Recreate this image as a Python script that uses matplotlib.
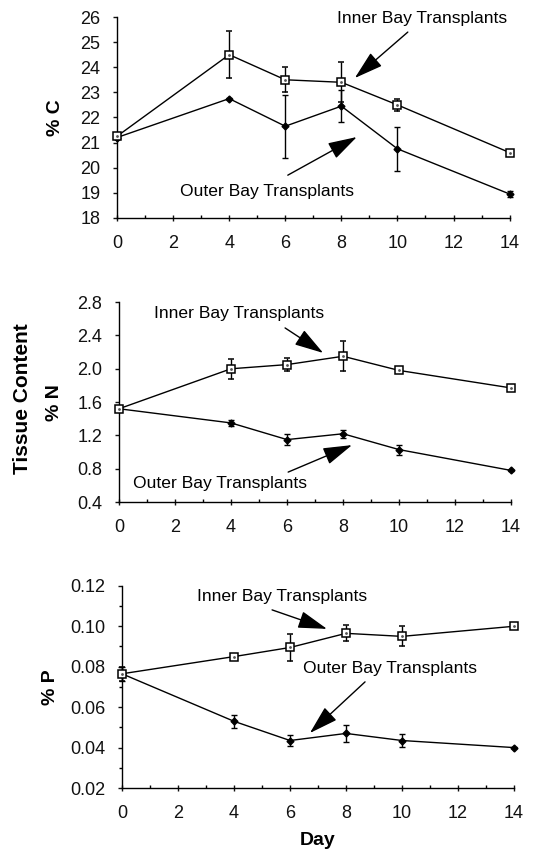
import matplotlib
matplotlib.use("Agg")
import matplotlib.pyplot as plt
from matplotlib.ticker import MultipleLocator

plt.rcParams['font.family'] = ['Liberation Sans', 'DejaVu Sans']

days = [0, 4, 6, 8, 10, 14]

c_inner = [21.25, 24.5, 23.5, 23.4, 22.5, 20.6]
c_inner_err = [0.05, 0.93, 0.5, 0.8, 0.25, 0.12]
c_outer = [21.2, 22.75, 21.65, 22.45, 20.75, 18.95]
c_outer_err = [0.05, 0.03, 1.25, 0.65, 0.88, 0.1]

n_inner = [1.52, 2.0, 2.05, 2.15, 1.98, 1.77]
n_inner_err = [0.03, 0.12, 0.08, 0.18, 0.03, 0.02]
n_outer = [1.52, 1.35, 1.15, 1.22, 1.03, 0.78]
n_outer_err = [0.03, 0.04, 0.07, 0.05, 0.06, 0.01]

p_inner = [0.0765, 0.085, 0.0895, 0.0965, 0.095, 0.100]
p_inner_err = [0.0035, 0.0015, 0.0065, 0.004, 0.005, 0.0008]
p_outer = [0.0765, 0.053, 0.0435, 0.047, 0.0435, 0.040]
p_outer_err = [0.0035, 0.0033, 0.0027, 0.004, 0.003, 0.0003]

c_ticks = [18, 19, 20, 21, 22, 23, 24, 25, 26]
n_ticks = [0.4, 0.8, 1.2, 1.6, 2.0, 2.4, 2.8]
p_ticks = [0.02, 0.04, 0.06, 0.08, 0.10, 0.12]
x_ticks = [0, 2, 4, 6, 8, 10, 12, 14]

fig = plt.figure(figsize=(5.4, 8.51), dpi=100)
ax1 = fig.add_axes([0.2167, 0.744, 0.727, 0.236])
ax2 = fig.add_axes([0.2204, 0.410, 0.726, 0.235])
ax3 = fig.add_axes([0.2259, 0.074, 0.726, 0.2376])

def style(ax, yticks, fmt, yminor=None):
    for s in ['top', 'right']:
        ax.spines[s].set_visible(False)
    for s in ['left', 'bottom']:
        ax.spines[s].set_linewidth(1.0)
    ax.set_xlim(0, 14)
    ax.set_ylim(yticks[0], yticks[-1])
    ax.set_xticks(x_ticks)
    ax.set_xticklabels([str(t) for t in x_ticks])
    ax.set_yticks(yticks)
    ax.set_yticklabels([fmt.format(t) for t in yticks])
    ax.xaxis.set_minor_locator(MultipleLocator(1))
    if yminor:
        ax.yaxis.set_minor_locator(MultipleLocator(yminor))
    ax.tick_params(axis='x', which='major', direction='inout', length=5, width=1,
                   labelsize=13, pad=10, colors='#111111')
    ax.tick_params(axis='x', which='minor', direction='in', length=2.5, width=1)
    ax.tick_params(axis='y', which='major', direction='out', length=3, width=1,
                   labelsize=13, pad=9, colors='#111111')
    ax.tick_params(axis='y', which='minor', direction='out', length=2, width=1)

def draw(ax, yi, ei, yo, eo):
    ax.errorbar(days, yi, yerr=ei, color='k', lw=1.0, elinewidth=1.0, capsize=2.5,
                marker='s', markersize=6, markerfacecolor='white',
                markeredgecolor='k', markeredgewidth=1.1, zorder=3, clip_on=False)
    ax.plot(days, yi, linestyle='none', marker='.', markersize=2, color='#555555',
            zorder=4, clip_on=False)
    ax.errorbar(days, yo, yerr=eo, color='k', lw=1.0, elinewidth=1.0, capsize=2.5,
                marker='D', markersize=3.5, markerfacecolor='k',
                markeredgecolor='k', zorder=2, clip_on=False)

arrow = dict(arrowstyle='-|>,head_length=1.0,head_width=0.3', color='k', lw=1.0,
             mutation_scale=18, shrinkA=0, shrinkB=0)

TS = 12.6

# Panel C
style(ax1, c_ticks, '{:d}')
draw(ax1, c_inner, c_inner_err, c_outer, c_outer_err)
ax1.set_ylabel('% C', fontsize=14, fontweight='bold', labelpad=12)
ax1.text(7.85, 25.95, 'Inner Bay Transplants', fontsize=TS, va='center', ha='left')
ax1.annotate('', xy=(8.48, 23.57), xytext=(10.37, 25.4), arrowprops=arrow)
ax1.text(2.24, 19.03, 'Outer Bay Transplants', fontsize=TS, va='center', ha='left')
ax1.annotate('', xy=(8.55, 21.22), xytext=(6.09, 19.7), arrowprops=arrow)

# Panel N
style(ax2, n_ticks, '{:.1f}')
draw(ax2, n_inner, n_inner_err, n_outer, n_outer_err)
ax2.set_ylabel('% N', fontsize=14, fontweight='bold', labelpad=10)
ax2.text(1.25, 2.668, 'Inner Bay Transplants', fontsize=TS, va='center', ha='left')
ax2.annotate('', xy=(7.29, 2.19), xytext=(5.93, 2.49), arrowprops=arrow)
ax2.text(0.5, 0.628, 'Outer Bay Transplants', fontsize=TS, va='center', ha='left')
ax2.annotate('', xy=(8.32, 1.084), xytext=(6.04, 0.76), arrowprops=arrow)
fig.text(0.042, 0.532, 'Tissue Content', fontsize=15, fontweight='bold',
         rotation=90, ha='center', va='center')

# Panel P
style(ax3, p_ticks, '{:.2f}', yminor=0.01)
draw(ax3, p_inner, p_inner_err, p_outer, p_outer_err)
ax3.set_ylabel('% P', fontsize=14, fontweight='bold', labelpad=8)
ax3.set_xlabel('Day', fontsize=14, fontweight='bold', labelpad=7)
ax3.text(2.68, 0.1146, 'Inner Bay Transplants', fontsize=TS, va='center', ha='left')
ax3.annotate('', xy=(7.32, 0.0987), xytext=(5.36, 0.1081), arrowprops=arrow)
ax3.text(6.46, 0.0789, 'Outer Bay Transplants', fontsize=TS, va='center', ha='left')
ax3.annotate('', xy=(6.71, 0.0472), xytext=(8.68, 0.0725), arrowprops=arrow)

fig.savefig('out.png', dpi=100, facecolor='white')
